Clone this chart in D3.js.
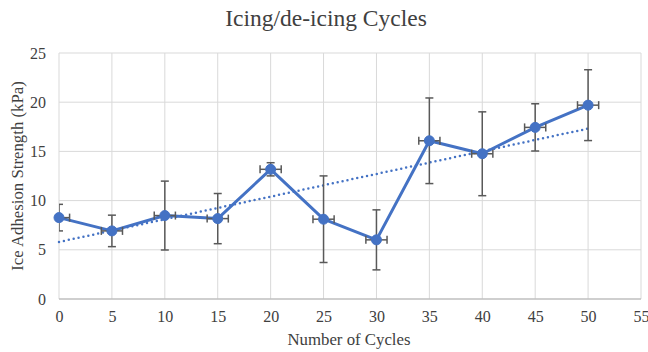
<!DOCTYPE html>
<html>
<head>
<meta charset="utf-8">
<script src="https://cdn.jsdelivr.net/npm/d3@7"></script>
<style>
  body { margin: 0; background: #fff; }
  text { font-family: "Liberation Serif", "Times New Roman", serif; }
</style>
</head>
<body>
<div id="chart"></div>
<script>
// data
var cycles = [0, 5, 10, 15, 20, 25, 30, 35, 40, 45, 50]
var strength = [8.27, 6.92, 8.48, 8.17, 13.18, 8.11, 6.01, 16.08, 14.76, 17.44, 19.70]
var yErr = [1.35, 1.6, 3.5, 2.55, 0.67, 4.4, 3.05, 4.35, 4.26, 2.4, 3.6]
var xErr = [1, 1, 1, 1, 1, 1, 1, 1, 1, 1, 1]
var xTicks = [0, 5, 10, 15, 20, 25, 30, 35, 40, 45, 50, 55]
var yTicks = [0, 5, 10, 15, 20, 25]

var width = 648, height = 352
// plot box in pixels
var plotLeft = 59, plotRight = 641, plotTop = 53, plotBottom = 299
var blue = "#4472c4", errColor = "#595959", textColor = "#404040"

var svg = d3.select("#chart").append("svg")
  .attr("width", width)
  .attr("height", height)

var x = d3.scaleLinear().domain([0, 55]).range([plotLeft, plotRight])
var y = d3.scaleLinear().domain([0, 25]).range([plotBottom, plotTop])

// clip so error bars don't spill outside the plot
svg.append("clipPath").attr("id", "plotClip")
  .append("rect")
  .attr("x", plotLeft).attr("y", plotTop - 5)
  .attr("width", plotRight - plotLeft).attr("height", plotBottom - plotTop + 10)

// grid
svg.append("g").selectAll("line")
  .data(xTicks).join("line")
  .attr("x1", d => x(d)).attr("x2", d => x(d))
  .attr("y1", plotTop).attr("y2", plotBottom)
  .style("stroke", "#d9d9d9").style("stroke-width", 1)

svg.append("g").selectAll("line")
  .data(yTicks.filter(d => d > 0)).join("line")
  .attr("x1", plotLeft).attr("x2", plotRight)
  .attr("y1", d => y(d)).attr("y2", d => y(d))
  .style("stroke", "#d9d9d9").style("stroke-width", 1)

// bottom axis line
svg.append("line")
  .attr("x1", plotLeft).attr("x2", plotRight)
  .attr("y1", plotBottom).attr("y2", plotBottom)
  .style("stroke", "#bfbfbf").style("stroke-width", 1.5)

// axes (labels only)
var xAxis = svg.append("g")
  .attr("transform", `translate(0 ${plotBottom})`)
  .call(d3.axisBottom(x).tickValues(xTicks).tickSize(0).tickPadding(12))
xAxis.select(".domain").remove()
xAxis.selectAll("text")
  .style("font-family", "Liberation Serif, serif")
  .style("font-size", "16px")
  .style("fill", textColor)

var yAxis = svg.append("g")
  .attr("transform", `translate(${plotLeft} 0)`)
  .call(d3.axisLeft(y).tickValues(yTicks).tickSize(0).tickPadding(13))
yAxis.select(".domain").remove()
yAxis.selectAll("text")
  .style("font-family", "Liberation Serif, serif")
  .style("font-size", "16px")
  .style("fill", textColor)

// titles
svg.append("text")
  .attr("x", 326).attr("y", 26)
  .attr("text-anchor", "middle")
  .style("font-size", "23.5px")
  .style("fill", textColor)
  .text("Icing/de-icing Cycles")

svg.append("text")
  .attr("x", 349).attr("y", 345)
  .attr("text-anchor", "middle")
  .style("font-size", "16.8px")
  .style("fill", textColor)
  .text("Number of Cycles")

svg.append("text")
  .attr("transform", `translate(23 176) rotate(-90)`)
  .attr("text-anchor", "middle")
  .style("font-size", "16.8px")
  .style("fill", textColor)
  .text("Ice Adhesion Strength (kPa)")

// linear trendline (least squares on the data)
var mx = d3.mean(cycles), my = d3.mean(strength)
var sxy = d3.sum(cycles, (c, i) => (c - mx) * (strength[i] - my))
var sxx = d3.sum(cycles, c => (c - mx) * (c - mx))
var slope = sxy / sxx, intercept = my - slope * mx
var x0 = d3.min(cycles), x1 = d3.max(cycles)

svg.append("line")
  .attr("x1", x(x0)).attr("y1", y(intercept + slope * x0))
  .attr("x2", x(x1)).attr("y2", y(intercept + slope * x1))
  .style("stroke", blue)
  .style("stroke-width", 2.5)
  .style("stroke-dasharray", "0 5")
  .style("stroke-linecap", "round")

var pts = cycles.map((c, i) => ({x: c, y: strength[i], ey: yErr[i], ex: xErr[i]}))

// data line
svg.append("path")
  .datum(pts)
  .attr("d", d3.line().x(d => x(d.x)).y(d => y(d.y)))
  .style("fill", "none")
  .style("stroke", blue)
  .style("stroke-width", 3)
  .style("stroke-linejoin", "round")

// error bars
var eb = svg.append("g").attr("clip-path", "url(#plotClip)")
  .style("stroke", errColor).style("stroke-width", 1.5)
var cap = 4

eb.selectAll("line.ev").data(pts).join("line").attr("class", "ev")
  .attr("x1", d => x(d.x)).attr("x2", d => x(d.x))
  .attr("y1", d => y(d.y + d.ey)).attr("y2", d => y(d.y - d.ey))
eb.selectAll("line.et").data(pts).join("line").attr("class", "et")
  .attr("x1", d => x(d.x) - cap).attr("x2", d => x(d.x) + cap)
  .attr("y1", d => y(d.y + d.ey)).attr("y2", d => y(d.y + d.ey))
eb.selectAll("line.eb").data(pts).join("line").attr("class", "eb")
  .attr("x1", d => x(d.x) - cap).attr("x2", d => x(d.x) + cap)
  .attr("y1", d => y(d.y - d.ey)).attr("y2", d => y(d.y - d.ey))
eb.selectAll("line.eh").data(pts).join("line").attr("class", "eh")
  .attr("x1", d => x(Math.max(d.x - d.ex, 0))).attr("x2", d => x(d.x + d.ex))
  .attr("y1", d => y(d.y)).attr("y2", d => y(d.y))
eb.selectAll("line.el").data(pts.filter(d => d.x - d.ex >= 0)).join("line").attr("class", "el")
  .attr("x1", d => x(d.x - d.ex)).attr("x2", d => x(d.x - d.ex))
  .attr("y1", d => y(d.y) - cap).attr("y2", d => y(d.y) + cap)
eb.selectAll("line.er").data(pts).join("line").attr("class", "er")
  .attr("x1", d => x(d.x + d.ex)).attr("x2", d => x(d.x + d.ex))
  .attr("y1", d => y(d.y) - cap).attr("y2", d => y(d.y) + cap)

// markers
svg.append("g").selectAll("circle")
  .data(pts).join("circle")
  .attr("cx", d => x(d.x)).attr("cy", d => y(d.y))
  .attr("r", 5)
  .style("fill", blue)
  .style("stroke", blue)
  .style("stroke-width", 1)
</script>
</body>
</html>
